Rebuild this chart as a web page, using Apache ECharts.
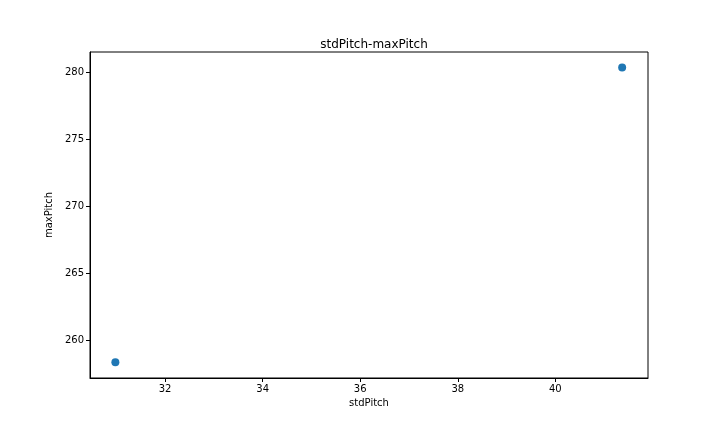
<!DOCTYPE html>
<html>
<head>
<meta charset="utf-8">
<script src="https://cdn.jsdelivr.net/npm/echarts@6/dist/echarts.min.js"></script>
<style>html,body{margin:0;padding:0;background:#fff}#c{width:720px;height:432px}</style>
</head>
<body>
<div id="c"></div>
<script>
// data
var stdPitch = [30.98, 41.37];
var maxPitch = [258.35, 280.35];
var xTicks = [32, 34, 36, 38, 40];
var yTicks = [260, 265, 270, 275, 280];

var points = [];
for (var i = 0; i < stdPitch.length; i++) {
	points.push([stdPitch[i], maxPitch[i]]);
}

var chart = echarts.init(document.getElementById('c'));
var font = 'DejaVu Sans';
var option = {
	animation: false,
	textStyle: { fontFamily: font },
	title: {
		text: 'stdPitch-maxPitch',
		left: 369, top: 34, textAlign: 'center',
		textStyle: { fontSize: 12, fontWeight: 'normal', color: '#000', fontFamily: font }
	},
	grid: {
		left: 90, right: 72, top: 52, bottom: 54,
		show: true, borderColor: '#000', borderWidth: 1, backgroundColor: '#fff'
	},
	xAxis: {
		type: 'value', min: 30.46, max: 41.9,
		name: 'stdPitch', nameLocation: 'middle', nameGap: 20,
		nameTextStyle: { fontSize: 10, color: '#000' },
		axisLine: { show: true, lineStyle: { color: '#000' } },
		axisTick: { show: true, customValues: xTicks, length: 4, lineStyle: { color: '#000' } },
		axisLabel: { customValues: xTicks, fontSize: 10, color: '#000', margin: 6 },
		splitLine: { show: false }
	},
	yAxis: {
		type: 'value', min: 257.17, max: 281.5,
		name: 'maxPitch', nameLocation: 'middle', nameGap: 30,
		nameTextStyle: { fontSize: 10, color: '#000' },
		axisLine: { show: true, lineStyle: { color: '#000' } },
		axisTick: { show: true, customValues: yTicks, length: 4, lineStyle: { color: '#000' } },
		axisLabel: { customValues: yTicks, fontSize: 10, color: '#000', margin: 6 },
		splitLine: { show: false }
	},
	series: [{
		type: 'scatter',
		data: points,
		symbolSize: 8,
		itemStyle: { color: '#1f77b4', opacity: 1 }
	}]
};
chart.setOption(option);
</script>
</body>
</html>
